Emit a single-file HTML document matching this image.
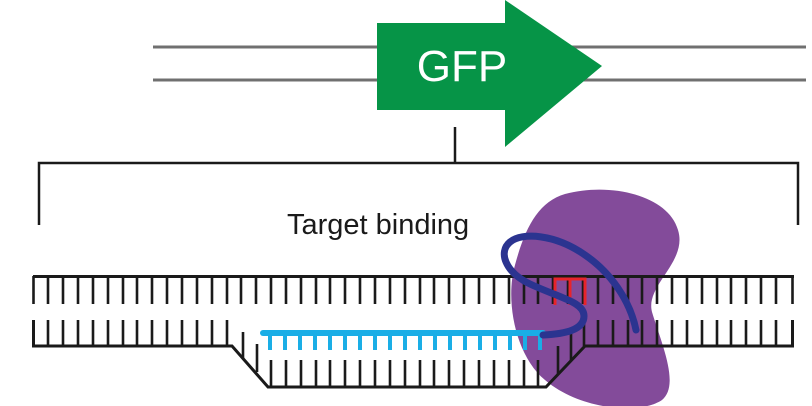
<!DOCTYPE html>
<html><head><style>html,body{margin:0;padding:0;background:#fff;}svg{display:block}</style></head>
<body>
<svg width="812" height="406" viewBox="0 0 812 406" xmlns="http://www.w3.org/2000/svg">
<!-- gene lines -->
<line x1="153" y1="47" x2="806" y2="47" stroke="#707070" stroke-width="3"/>
<line x1="153" y1="80" x2="806" y2="80" stroke="#707070" stroke-width="3"/>
<!-- GFP arrow -->
<polygon points="377,23 505,23 505,0 602,66 505,147 505,110 377,110" fill="#069447"/>
<text x="462" y="81" font-family="Liberation Sans, sans-serif" font-size="44" fill="#fff" text-anchor="middle">GFP</text>
<!-- bracket -->
<line x1="455" y1="127" x2="455" y2="162" stroke="#1a1a1a" stroke-width="2.5"/>
<polyline points="39,225 39,163 798,163 798,225" fill="none" stroke="#1a1a1a" stroke-width="2.5"/>
<text x="287" y="234" font-family="Liberation Sans, sans-serif" font-size="29" fill="#1a1a1a">Target binding</text>
<!-- purple protein -->
<path d="M565,194 C610,182 668,195 678,230 C688,262 645,285 652,312 C662,345 680,385 662,400 C640,415 580,410 545,380 C515,355 505,300 515,265 C525,228 538,202 565,194 Z" fill="#834b9a"/>
<!-- top strand -->
<line x1="33" y1="276.5" x2="794" y2="276.5" stroke="#1a1a1a" stroke-width="3"/>
<path stroke="#1a1a1a" stroke-width="2.6" fill="none" d="M33.5 276V304M48 276V304M63 276V304M78 276V304M93 276V304M108 276V304M123 276V304M137 276V304M152 276V304M167 276V304M182 276V304M197 276V304M212 276V304M227 276V304M241 276V304M256 276V304M271 276V304M286 276V304M301 276V304M316 276V304M330 276V304M345 276V304M360 276V304M375 276V304M390 276V304M405 276V304M420 276V304M434 276V304M449 276V304M464 276V304M479 276V304M494 276V304M509 276V304M524 276V304M538 276V304M553 276V304M568 276V304M583 276V304M598 276V304M613 276V304M628 276V304M642 276V304M657 276V304M672 276V304M687 276V304M702 276V304M717 276V304M731 276V304M746 276V304M761 276V304M776 276V304M792.5 276V304"/>
<!-- bottom strand -->
<polyline points="33.5,320 33.5,346 232,346 268,387 546,387 585,346 792.5,346 792.5,320" fill="none" stroke="#1a1a1a" stroke-width="3"/>
<path stroke="#1a1a1a" stroke-width="2.6" fill="none" d="M48 320V346M63 320V346M78 320V346M93 320V346M108 320V346M123 320V346M137 320V346M152 320V346M167 320V346M182 320V346M197 320V346M212 320V346M227 320V346
M598 320V346M613 320V346M628 320V346M642 320V346M657 320V346M672 320V346M687 320V346M702 320V346M717 320V346M731 320V346M746 320V346M761 320V346M776 320V346
M271 360V387M286 360V387M301 360V387M316 360V387M330 360V387M345 360V387M360 360V387M375 360V387M390 360V387M405 360V387M420 360V387M434 360V387M449 360V387M464 360V387M479 360V387M494 360V387M509 360V387M524 360V387M538 360V387
M243 332V358M257 344V372M558 346V374M571 333V360M584 320V346"/>
<!-- cyan guide -->
<line x1="263" y1="333" x2="543" y2="333" stroke="#1aaee6" stroke-width="6" stroke-linecap="round"/>
<path stroke="#1aaee6" stroke-width="4" fill="none" d="M270 333V350M285 333V350M300 333V350M315 333V350M330 333V350M345 333V350M360 333V350M375 333V350M390 333V350M405 333V350M420 333V350M435 333V350M450 333V350M465 333V350M480 333V350M495 333V350M510 333V350M525 333V350M540 333V350"/>
<!-- red comb -->
<polyline points="555,305 555,279 585,279 585,305" fill="none" stroke="#e8242b" stroke-width="3"/>
<line x1="570" y1="279" x2="570" y2="305" stroke="#e8242b" stroke-width="3"/>
<!-- dark blue RNA -->
<path d="M543,335 C565,334 584,330 584,316 C584,302 560,298 530,284 C505,272 498,252 510,242 C522,232 555,234 585,255 C610,272 630,300 636,330" fill="none" stroke="#2b3490" stroke-width="7" stroke-linecap="round"/>
</svg>
</body></html>
